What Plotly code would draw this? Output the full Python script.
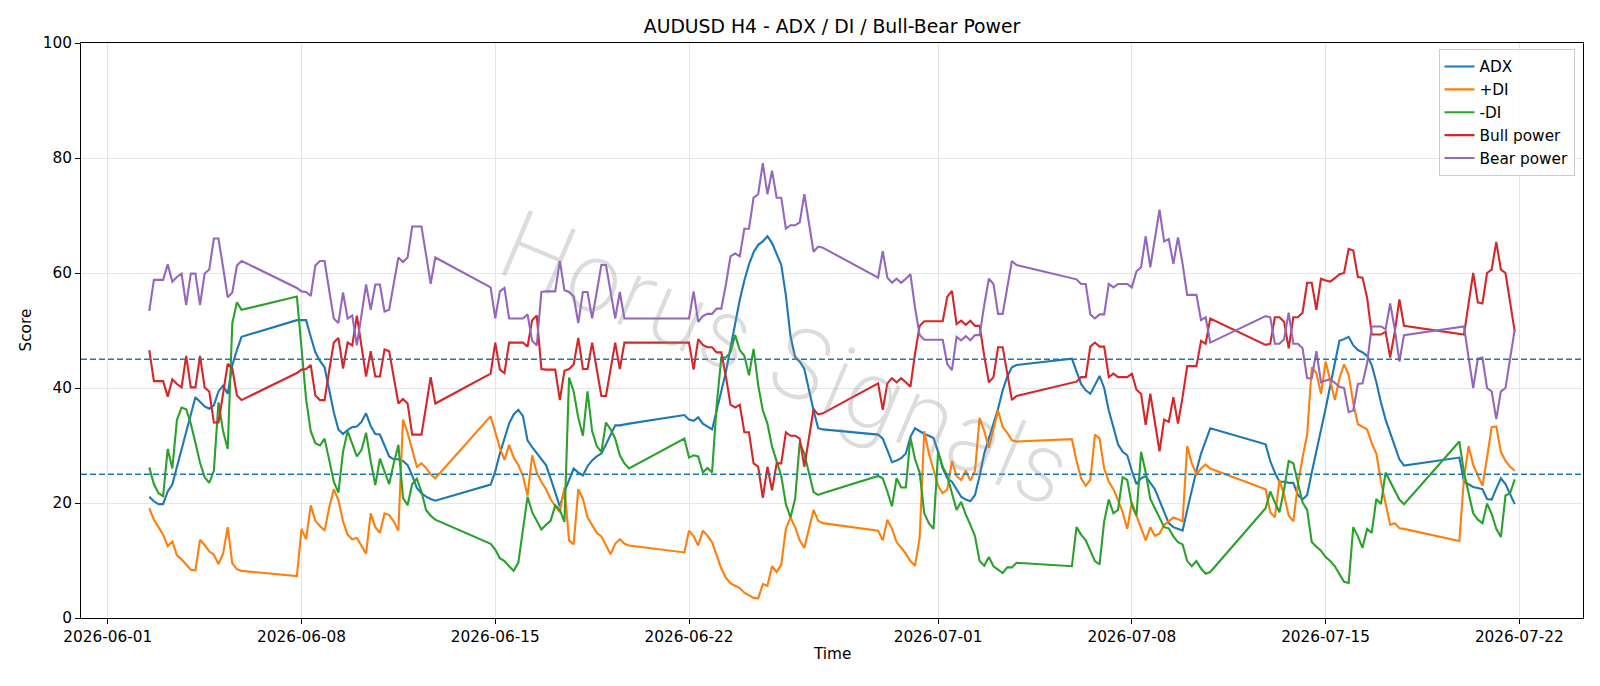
import pandas as pd
import plotly.graph_objects as go

# H4 trading sessions (Sunday 20:00 -> Friday 20:00), first one partial
sessions = [
    ("2026-06-02 12:00", "2026-06-05 20:00"),
    ("2026-06-07 20:00", "2026-06-12 20:00"),
    ("2026-06-14 20:00", "2026-06-19 20:00"),
    ("2026-06-21 20:00", "2026-06-26 20:00"),
    ("2026-06-28 20:00", "2026-07-03 20:00"),
    ("2026-07-05 20:00", "2026-07-10 20:00"),
    ("2026-07-12 20:00", "2026-07-17 20:00"),
    ("2026-07-19 20:00", "2026-07-21 20:00"),
]

adx = [
    21.1, 20.3, 19.8, 19.8, 22.0, 23.2, 26.3, 29.3, 32.3, 35.4, 38.4, 37.6, 36.8, 36.4, 37.0, 39.4, 40.4, 39.0, 44.0, 46.6, 48.9,
    51.8, 51.8, 51.8, 48.9, 46.2, 44.7, 43.6, 39.7, 35.8, 32.8, 32.0, 32.7, 33.2, 33.3, 34.1, 35.6, 33.4, 32.0, 31.9, 30.0, 28.1, 27.6, 27.6, 27.3, 26.6, 24.8, 22.6, 21.7, 21.1, 20.7, 20.4,
    23.2, 25.5, 28.6, 31.2, 33.8, 35.4, 36.2, 35.1, 30.9, 29.7, 28.6, 27.6, 26.6, 24.3, 22.0, 19.4, 22.0, 24.0, 26.0, 25.3, 24.8, 26.4, 27.4, 28.1, 28.6, 30.2, 31.9, 33.5, 33.5, 33.6, 33.8,
    35.3, 34.5, 34.3, 34.9, 33.8, 33.3, 32.8, 36.1, 39.3, 42.8, 47.0, 51.5, 55.3, 58.7, 61.5, 63.6, 64.9, 65.5, 66.4, 65.2, 63.4, 61.4, 56.1, 49.0, 45.4, 44.6, 43.3, 39.4, 36.1, 33.0, 32.8,
    31.9, 31.2, 29.2, 27.1, 27.4, 27.8, 28.6, 31.5, 33.0, 32.5, 32.0, 31.7, 31.3, 28.9, 26.0, 24.3, 23.7, 22.4, 21.1, 20.6, 20.3, 21.4, 24.7, 28.6, 31.2, 33.5, 36.4, 39.6, 42.0, 43.6, 44.0,
    45.1, 43.0, 40.7, 39.6, 39.0, 40.5, 42.1, 40.0, 36.1, 33.2, 30.2, 28.9, 28.3, 25.6, 23.3, 24.3, 24.7, 23.5, 22.4, 20.4, 18.4, 16.5, 15.8, 15.5, 15.2, 18.8, 22.4, 25.6, 28.6, 30.9, 33.0,
    30.2, 27.3, 25.3, 23.7, 23.7, 23.5, 23.5, 21.4, 20.6, 21.4, 25.3, 28.9, 32.5, 36.4, 40.4, 44.3, 48.2, 48.5, 48.9, 47.4, 46.6, 46.2, 45.6, 44.0, 41.0, 37.5, 34.5, 32.2, 29.9, 27.6, 26.5,
    27.9, 23.7, 23.2, 22.8, 22.6, 22.4, 20.7, 20.6, 22.5, 24.3, 23.3, 21.5, 19.8,
]

plus_di = [
    19.1, 17.1, 15.8, 14.5, 12.5, 13.3, 10.9, 10.2, 9.3, 8.4, 8.3, 13.6, 12.7, 11.6, 11.0, 9.4, 11.2, 15.8, 9.5, 8.5, 8.2,
    7.3, 15.5, 13.7, 19.6, 16.9, 16.0, 15.2, 19.2, 22.4, 20.5, 16.8, 14.5, 13.7, 13.9, 12.6, 11.2, 18.2, 15.8, 14.8, 18.2, 17.9, 16.8, 15.2, 34.5, 32.2, 29.4, 26.3, 26.9, 26.1, 25.0, 24.3,
    35.1, 32.5, 29.6, 27.5, 30.1, 27.9, 26.6, 24.7, 21.3, 28.3, 25.3, 23.7, 22.4, 20.7, 19.4, 18.4, 22.7, 13.5, 12.8, 22.4, 20.7, 17.5, 16.2, 14.8, 14.2, 12.6, 11.1, 12.9, 13.7, 12.9, 12.6,
    11.4, 15.2, 14.2, 12.6, 15.2, 14.3, 13.2, 10.9, 8.6, 7.0, 6.0, 5.6, 5.2, 4.4, 3.9, 3.5, 3.4, 5.9, 5.6, 9.0, 8.0, 9.3, 15.5, 17.5, 15.8, 13.5, 12.2, 15.5, 18.8, 16.9, 16.5,
    15.2, 13.5, 17.1, 15.5, 13.2, 12.2, 11.2, 9.9, 9.1, 13.9, 32.5, 28.6, 25.6, 23.0, 21.7, 22.4, 27.3, 24.7, 24.0, 25.6, 23.9, 25.6, 34.8, 32.5, 29.6, 32.8, 36.1, 33.2, 32.2, 30.9, 30.7,
    31.1, 27.3, 24.3, 23.0, 24.0, 31.9, 31.2, 26.0, 23.7, 22.4, 20.5, 18.4, 15.5, 20.1, 17.8, 15.5, 13.5, 15.8, 14.3, 14.7, 16.2, 16.8, 17.5, 17.2, 16.8, 29.9, 26.9, 25.0, 26.0, 26.7, 26.0,
    22.4, 18.4, 17.5, 24.0, 21.4, 17.8, 16.8, 23.3, 27.9, 31.9, 43.6, 42.6, 39.0, 44.6, 41.3, 37.9, 41.7, 44.1, 42.3, 37.4, 33.7, 33.2, 32.8, 30.4, 28.6, 23.7, 20.2, 16.2, 16.5, 15.6, 15.5,
    13.4, 24.3, 29.9, 26.6, 24.7, 23.0, 27.9, 33.2, 33.3, 28.9, 27.3, 26.3, 25.6,
]

minus_di = [
    26.2, 23.3, 21.7, 21.2, 29.4, 26.0, 34.5, 36.6, 36.3, 33.8, 30.5, 27.0, 24.5, 23.5, 25.6, 37.5, 32.5, 29.4, 51.3, 54.9, 53.6,
    55.9, 47.0, 38.0, 32.5, 30.4, 30.0, 31.2, 27.5, 23.7, 21.8, 28.9, 32.5, 30.2, 28.1, 29.2, 32.2, 27.3, 23.1, 27.7, 25.3, 23.3, 26.9, 30.1, 20.9, 19.6, 23.3, 24.2, 22.0, 18.8, 17.8, 17.1,
    12.9, 11.9, 10.4, 9.9, 9.0, 8.2, 9.6, 15.5, 21.1, 18.4, 16.8, 15.4, 16.2, 16.9, 19.6, 18.8, 16.7, 41.8, 39.4, 34.8, 31.7, 39.4, 32.5, 29.9, 28.9, 34.0, 32.8, 31.2, 28.3, 26.9, 26.0,
    31.2, 27.9, 28.3, 28.1, 25.3, 26.1, 25.3, 37.0, 45.3, 45.3, 46.2, 49.2, 46.6, 45.6, 42.2, 46.8, 40.5, 36.1, 33.8, 29.8, 27.3, 24.7, 19.8, 17.5, 20.7, 30.5, 28.6, 25.3, 21.9, 21.4, 21.7,
    24.7, 24.3, 22.0, 19.4, 24.3, 22.7, 22.7, 31.4, 27.6, 25.3, 18.2, 16.5, 15.5, 28.9, 26.3, 24.7, 21.7, 18.8, 20.2, 18.0, 16.2, 14.2, 9.9, 9.1, 10.6, 9.0, 8.4, 7.8, 8.8, 8.8, 9.6,
    9.0, 15.8, 14.5, 13.5, 11.6, 9.9, 9.3, 16.8, 20.6, 18.2, 18.8, 24.5, 24.0, 19.6, 17.8, 28.9, 25.3, 20.7, 19.1, 17.5, 15.8, 15.6, 14.2, 13.2, 12.8, 9.9, 9.0, 9.9, 8.6, 7.7, 8.0,
    19.1, 22.0, 20.1, 18.4, 22.4, 27.3, 26.9, 23.3, 20.1, 18.8, 13.2, 12.4, 11.7, 10.6, 9.9, 9.0, 7.7, 6.3, 6.1, 15.8, 14.2, 12.2, 15.5, 14.8, 20.7, 19.8, 25.3, 23.7, 22.0, 20.6, 19.8,
    30.7, 25.3, 21.7, 18.2, 17.1, 16.5, 19.9, 18.1, 15.5, 14.1, 21.3, 21.7, 24.1,
]

bull_power = [
    46.6, 41.2, 41.2, 41.2, 38.5, 41.5, 40.7, 40.1, 45.6, 40.1, 40.1, 45.6, 40.1, 39.4, 34.0, 34.0, 39.0, 44.2, 43.4, 38.7, 37.9,
    42.6, 43.2, 43.3, 44.0, 38.7, 37.9, 37.9, 43.0, 47.9, 48.7, 43.4, 47.9, 47.4, 52.6, 47.3, 42.0, 46.4, 42.0, 42.0, 46.7, 46.4, 41.7, 37.3, 38.1, 37.3, 31.9, 31.9, 31.9, 36.8, 41.9, 37.3,
    42.5, 47.9, 43.2, 42.6, 47.9, 47.9, 47.9, 47.9, 47.2, 51.8, 52.6, 43.3, 43.2, 43.2, 43.2, 37.9, 43.0, 43.3, 44.1, 48.7, 43.3, 43.3, 47.9, 43.3, 38.6, 38.6, 43.3, 47.9, 43.3, 47.9, 47.9,
    47.9, 47.9, 43.2, 48.5, 47.5, 47.1, 47.1, 46.2, 46.2, 42.0, 37.1, 36.6, 37.1, 32.3, 32.3, 26.9, 26.3, 20.9, 26.3, 22.2, 26.9, 26.9, 32.3, 31.7, 31.7, 31.2, 26.3, 31.5, 36.3, 35.4, 35.6,
    40.8, 36.2, 40.8, 41.7, 41.0, 41.7, 41.0, 40.2, 46.0, 50.8, 51.6, 51.6, 51.6, 51.6, 51.6, 55.9, 56.9, 51.1, 51.7, 51.0, 51.7, 50.8, 50.8, 45.6, 41.0, 41.9, 47.1, 47.1, 42.6, 37.9, 38.6,
    41.0, 41.1, 41.9, 41.9, 47.2, 47.9, 47.2, 47.2, 41.9, 42.5, 41.9, 41.9, 41.9, 42.5, 39.7, 39.0, 33.6, 39.0, 34.1, 29.0, 34.5, 34.1, 38.4, 33.8, 38.4, 43.8, 43.8, 43.8, 48.2, 47.7, 52.1,
    47.5, 47.7, 52.3, 52.3, 51.5, 46.9, 52.3, 52.3, 53.1, 58.3, 58.3, 53.6, 59.0, 58.7, 58.5, 59.1, 59.8, 60.0, 64.2, 63.9, 59.3, 59.2, 55.7, 49.3, 49.3, 49.3, 49.8, 45.3, 49.8, 55.4, 50.8,
    49.4, 49.3, 54.7, 60.0, 54.9, 54.7, 60.0, 60.6, 65.4, 60.6, 60.0, 55.0, 49.8,
]

bear_power = [
    53.4, 58.8, 58.8, 58.8, 61.5, 58.5, 59.3, 59.9, 54.4, 59.9, 59.9, 54.4, 59.9, 60.6, 66.0, 66.0, 61.0, 55.8, 56.6, 61.3, 62.1,
    57.4, 56.8, 56.7, 56.0, 61.3, 62.1, 62.1, 57.0, 52.1, 51.3, 56.6, 52.1, 52.6, 47.4, 52.7, 58.0, 53.6, 58.0, 58.0, 53.3, 53.6, 58.3, 62.7, 61.9, 62.7, 68.1, 68.1, 68.1, 63.2, 58.1, 62.7,
    57.5, 52.1, 56.8, 57.4, 52.1, 52.1, 52.1, 52.1, 52.8, 48.2, 47.4, 56.7, 56.8, 56.8, 56.8, 62.1, 57.0, 56.7, 55.9, 51.3, 56.7, 56.7, 52.1, 56.7, 61.4, 61.4, 56.7, 52.1, 56.7, 52.1, 52.1,
    52.1, 52.1, 56.8, 51.5, 52.5, 52.9, 52.9, 53.8, 53.8, 58.0, 62.9, 63.4, 62.9, 67.7, 67.7, 73.1, 73.7, 79.1, 73.7, 77.8, 73.1, 73.1, 67.7, 68.3, 68.3, 68.8, 73.7, 68.5, 63.7, 64.6, 64.4,
    59.2, 63.8, 59.2, 58.3, 59.0, 58.3, 59.0, 59.8, 54.0, 49.2, 48.4, 48.4, 48.4, 48.4, 48.4, 44.1, 43.1, 48.9, 48.3, 49.0, 48.3, 49.2, 49.2, 54.4, 59.0, 58.1, 52.9, 52.9, 57.4, 62.1, 61.4,
    59.0, 58.9, 58.1, 58.1, 52.8, 52.1, 52.8, 52.8, 58.1, 57.5, 58.1, 58.1, 58.1, 57.5, 60.3, 61.0, 66.4, 61.0, 65.9, 71.0, 65.5, 65.9, 61.6, 66.2, 61.6, 56.2, 56.2, 56.2, 51.8, 52.3, 47.9,
    52.5, 52.3, 47.7, 47.7, 48.5, 53.1, 47.7, 47.7, 46.9, 41.7, 41.7, 46.4, 41.0, 41.3, 41.5, 40.9, 40.2, 40.0, 35.8, 36.1, 40.7, 40.8, 44.3, 50.7, 50.7, 50.7, 50.2, 54.7, 50.2, 44.6, 49.2,
    50.6, 50.7, 45.3, 40.0, 45.1, 45.3, 40.0, 39.4, 34.6, 39.4, 40.0, 45.0, 50.2,
]

series_names = ["ADX", "+DI", "-DI", "Bull power", "Bear power"]
series_colors = ["#1f77b4", "#ff7f0e", "#2ca02c", "#d62728", "#9467bd"]
ref_levels = [45, 25]
x_tick_dates = ["2026-06-01", "2026-06-08", "2026-06-15", "2026-06-22",
                "2026-07-01", "2026-07-08", "2026-07-15", "2026-07-22"]
y_ticks = [0, 20, 40, 60, 80, 100]

times = []
for s, e in sessions:
    times += list(pd.date_range(s, e, freq="4h"))

fig = go.Figure()
for name, vals, col in zip(series_names, [adx, plus_di, minus_di, bull_power, bear_power], series_colors):
    n = min(len(times), len(vals))
    fig.add_trace(go.Scatter(x=times[:n], y=vals[:n], mode="lines", name=name,
                             line=dict(color=col, width=2.1)))

for lv in ref_levels:
    fig.add_shape(type="line", xref="paper", x0=0, x1=1, yref="y", y0=lv, y1=lv,
                  line=dict(color="#1f77b4", width=1.3, dash="6px,3px"), layer="above")

span = times[-1] - times[0]
x0 = times[0] - span * 0.05
x1 = times[-1] + span * 0.05

W, H = 1600, 686
L, R, T, B = 81, 1583, 43, 618.5
pw, ph = R - L, B - T

font = "DejaVu Sans"
fs = 15.3
axis_common = dict(showline=True, linecolor="black", linewidth=1.1, mirror=True,
                   ticks="outside", ticklen=5, tickwidth=1.1, tickcolor="black",
                   showgrid=True, gridcolor="#e6e6e6", gridwidth=1, zeroline=False,
                   tickfont=dict(family=font, size=fs, color="black"))

fig.update_layout(
    width=W, height=H,
    margin=dict(l=L, r=W - R, t=T, b=H - B, pad=0),
    paper_bgcolor="white", plot_bgcolor="white",
    font=dict(family=font, color="black"),
    title=dict(text="AUDUSD H4 - ADX / DI / Bull-Bear Power", x=0.5, xref="paper",
               xanchor="center", y=1 - 26.5 / H, yref="container", yanchor="middle",
               font=dict(family=font, size=18.8, color="black")),
    xaxis=dict(type="date", range=[x0, x1], tickvals=pd.to_datetime(x_tick_dates),
               ticktext=x_tick_dates, **axis_common),
    yaxis=dict(range=[0, 100], tickvals=y_ticks, **axis_common),
    legend=dict(x=(1574.5 - L) / pw, y=(B - 49) / ph, xanchor="right", yanchor="top",
                bgcolor="rgba(255,255,255,0.85)", bordercolor="#cccccc", borderwidth=1,
                font=dict(family=font, size=fs, color="black"), tracegroupgap=0,
                itemwidth=30),
    showlegend=True,
)

fig.add_annotation(text="Score", xref="paper", yref="paper", x=(25 - L) / pw, y=0.5,
                   textangle=-90, showarrow=False, xanchor="center", yanchor="middle",
                   font=dict(family=font, size=fs, color="black"))
fig.add_annotation(text="Time", xref="paper", yref="paper", x=0.5, y=(B - 655) / ph,
                   showarrow=False, xanchor="center", yanchor="middle",
                   font=dict(family=font, size=fs, color="black"))
fig.add_annotation(text="Horus Signals", xref="paper", yref="paper",
                   x=(786 - L) / pw, y=(B - 357) / ph, textangle=23, showarrow=False,
                   xanchor="center", yanchor="middle",
                   font=dict(family="Inter", size=96, weight=200, color="rgba(140,140,140,0.30)"))

fig.write_html("out.html")
